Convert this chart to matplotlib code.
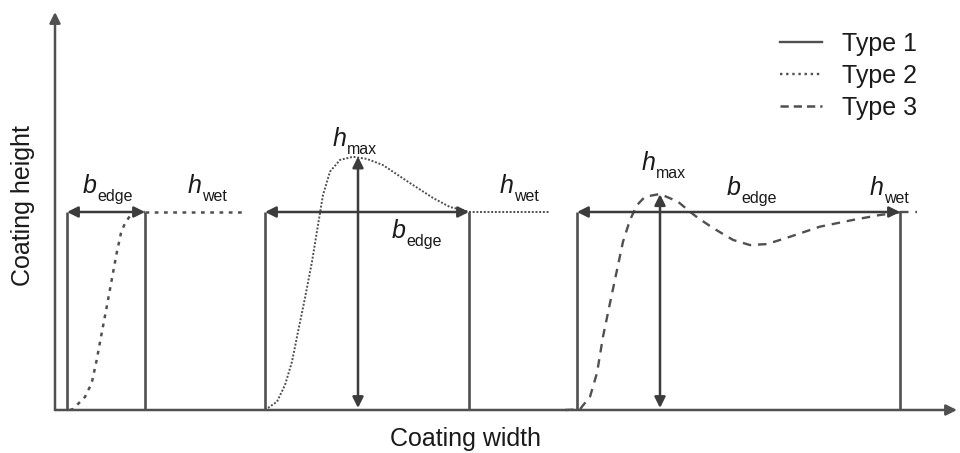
import matplotlib.pyplot as plt
from matplotlib.lines import Line2D

plt.rcParams['font.family'] = ['Liberation Sans', 'DejaVu Sans']

# Perfis de altura do revestimento (largura, altura; h_wet = 1)
perfil1_x = [15, 18, 30, 36.7, 41.7, 46.7, 51.7, 56.7, 61.7, 66, 70, 75, 83, 90]
perfil1_y = [0, 0.005, 0.066, 0.136, 0.253, 0.389, 0.520, 0.657, 0.793, 0.894, 0.944, 0.980, 0.995, 1.0]

perfil2_x = [210, 222, 230, 237, 243, 250, 257, 263, 268, 275, 285, 298, 312, 328, 355, 378, 395, 408, 414]
perfil2_y = [0, 0.042, 0.126, 0.244, 0.395, 0.566, 0.749, 0.934, 1.086, 1.204, 1.263, 1.279,
             1.268, 1.237, 1.146, 1.071, 1.025, 1.010, 1.0]

perfil3_x = [510, 525, 527, 535, 542, 548, 555, 562, 568, 575, 582, 590, 605, 623, 635, 643, 658,
             678, 695, 712, 735, 765, 798, 825, 842, 845]
perfil3_y = [0, 0.003, 0.017, 0.067, 0.187, 0.370, 0.540, 0.707, 0.850, 0.960, 1.035, 1.077, 1.091,
             1.052, 1.001, 0.970, 0.919, 0.859, 0.833, 0.838, 0.875, 0.926, 0.960, 0.985, 0.996, 1.0]

h_wet = 1.0
borda_esq = [12, 210, 522]      # inicio da borda
borda_dir = [90, 414, 845]      # fim da borda (b_edge)
fim_wet = [190, 495, 862]       # continuacao em h_wet
h_max_x = [303, 605]
h_max = [1.28, 1.09]

# Rotulos (letra, indice, x, y)
rotulos = [('b', 'edge', 28, 1.096), ('h', 'wet', 133, 1.096),
           ('h', 'max', 278, 1.333), ('b', 'edge', 337, 0.869), ('h', 'wet', 445, 1.096),
           ('h', 'max', 587, 1.212), ('b', 'edge', 672, 1.086), ('h', 'wet', 815, 1.086)]

cor_linha = '#505050'
cor_seta = '#3c3c3c'
cor_texto = '#1a1a1a'

estilos = [dict(ls=(0, (1.5, 2.2)), lw=1.8),
           dict(ls=(0, (1, 0.9)), lw=1.4),
           dict(ls=(0, (3.6, 2.9)), lw=1.7)]

fig = plt.figure(figsize=(9.6, 4.53), dpi=100)
ax = fig.add_axes([0, 0, 1, 1])
ax.set_xlim(-55, 905)
ax.set_ylim(-43 / 198, 410 / 198)
ax.axis('off')

# Eixos com setas
seta = dict(arrowstyle='-|>', mutation_scale=16, lw=1.8, color=cor_linha, shrinkA=0, shrinkB=0)
ax.annotate('', xy=(0, 2.01), xytext=(0, 0), arrowprops=seta)
ax.annotate('', xy=(902, 0), xytext=(0, 0), arrowprops=seta)

# Perfis
perfis = [(perfil1_x, perfil1_y), (perfil2_x, perfil2_y), (perfil3_x, perfil3_y)]
for i, (px, py) in enumerate(perfis):
    ax.plot(px, py, color=cor_linha, **estilos[i])
    ax.plot([borda_dir[i], fim_wet[i]], [h_wet, h_wet], color=cor_linha, **estilos[i])

# Caixas da borda e setas b_edge
seta2 = dict(arrowstyle='<|-|>', mutation_scale=16, lw=1.8, color=cor_seta, shrinkA=0, shrinkB=0)
for i in range(3):
    ax.vlines([borda_esq[i], borda_dir[i]], 0, h_wet, color=cor_linha, lw=1.9)
    ax.annotate('', xy=(borda_dir[i], h_wet), xytext=(borda_esq[i], h_wet), arrowprops=seta2)

# Setas h_max
for xm, hm in zip(h_max_x, h_max):
    ax.annotate('', xy=(xm, hm), xytext=(xm, 0.01), arrowprops=seta2)

for letra, indice, x, y in rotulos:
    ax.text(x, y, letra, fontsize=18, style='italic', color=cor_texto, ha='left', va='baseline')
    ax.annotate(indice, xy=(x, y), xytext=(14, -8), textcoords='offset pixels',
                fontsize=11.5, color=cor_texto, ha='left', va='baseline')

ax.text(-32, 1.035, 'Coating height', fontsize=18, rotation=90, ha='center', va='center', color=cor_texto)
ax.text(410, -0.182, 'Coating width', fontsize=18, ha='center', va='baseline', color=cor_texto)

# Legenda
handles = [Line2D([], [], color=cor_linha, lw=1.7),
           Line2D([], [], color=cor_linha, lw=1.7, ls=(0, (1, 1.6))),
           Line2D([], [], color=cor_linha, lw=1.8, ls=(0, (3.3, 2.0)))]
ax.legend(handles, ['Type 1', 'Type 2', 'Type 3'], loc='upper left',
          bbox_to_anchor=(780 / 960, 1 - 32 / 453), bbox_transform=fig.transFigure,
          frameon=False, fontsize=18, handlelength=1.68, handletextpad=0.8,
          labelspacing=0.32, borderpad=0, borderaxespad=0, labelcolor=cor_texto)

fig.savefig('out.png', dpi=100)
